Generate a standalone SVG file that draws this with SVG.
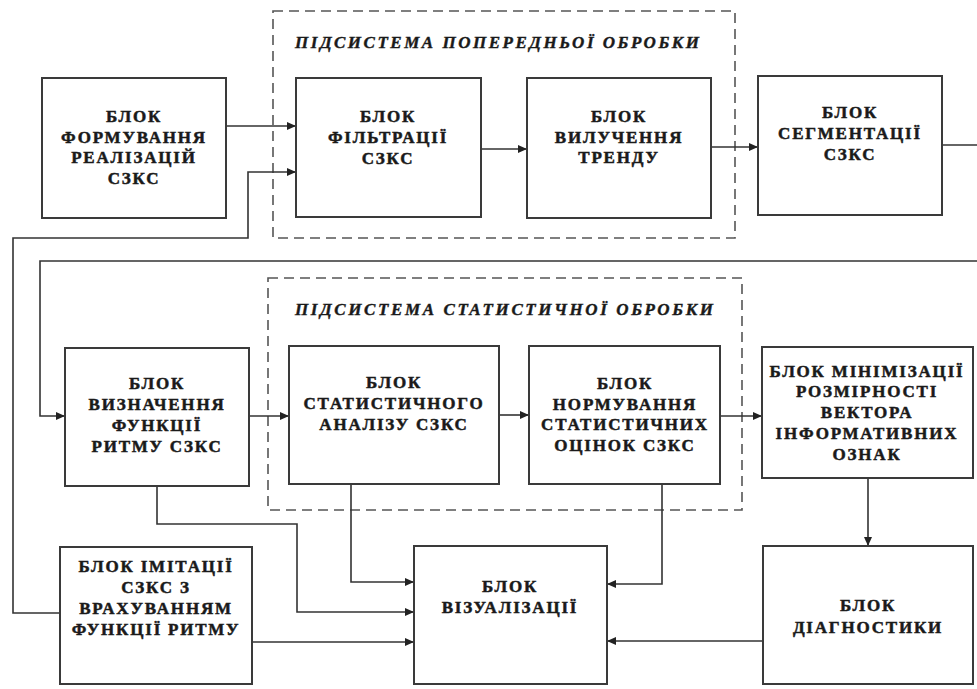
<svg xmlns="http://www.w3.org/2000/svg" width="977" height="689" viewBox="0 0 977 689">
<style>
.box{fill:#fff;stroke:#3a3a3a;stroke-width:2}
.sub{fill:none;stroke:#555;stroke-width:1.6;stroke-dasharray:10 6}
.t{font-family:"Liberation Serif","Times New Roman",serif;font-weight:bold;font-size:17px;fill:#1a1a1a;stroke:#1a1a1a;stroke-width:0.5;text-anchor:middle;letter-spacing:1.8px}
.ti{font-family:"Liberation Serif","Times New Roman",serif;font-weight:bold;font-style:italic;font-size:17px;fill:#1a1a1a;stroke:#1a1a1a;stroke-width:0.4}
.c{fill:none;stroke:#333;stroke-width:1.6}
.a{marker-end:url(#arr)}
</style>
<defs>
<marker id="arr" markerUnits="userSpaceOnUse" markerWidth="9" markerHeight="8" refX="9" refY="4" orient="auto">
<path d="M0,0 L9,4 L0,8 z" fill="#222"/>
</marker>
</defs>
<rect width="977" height="689" fill="#fff"/>
<g id="sub1">
<rect class="sub" x="273" y="11" width="462" height="227"/>
<text class="ti" x="295" y="48" textLength="404" lengthAdjust="spacing">ПІДСИСТЕМА ПОПЕРЕДНЬОЇ ОБРОБКИ</text>
</g>
<g id="sub2">
<rect class="sub" x="268" y="278" width="474" height="232"/>
<text class="ti" x="295" y="315" textLength="418" lengthAdjust="spacing">ПІДСИСТЕМА СТАТИСТИЧНОЇ ОБРОБКИ</text>
</g>
<g id="connectors">
<path class="c a" d="M226,126 H296"/>
<path class="c a" d="M60,613 H13 V238 H248 V172 H296"/>
<path class="c a" d="M481,149 H527"/>
<path class="c a" d="M711,147 H758"/>
<path class="c" d="M942,145 H977"/>
<path class="c a" d="M977,261 H40 V416 H65"/>
<path class="c a" d="M249,416 H289"/>
<path class="c a" d="M499,415 H529"/>
<path class="c a" d="M720,416 H762"/>
<path class="c a" d="M868,478 V546"/>
<path class="c a" d="M157,486 V524 H297 V612 H414"/>
<path class="c a" d="M351,484 V582 H414"/>
<path class="c a" d="M252,642 H414"/>
<path class="c a" d="M662,484 V584 H607"/>
<path class="c a" d="M763,641 H607"/>
</g>
<g id="n-form">
<rect class="box" x="42" y="78" width="184" height="140"/>
<text class="t" x="134" y="122">БЛОК</text>
<text class="t" x="134" y="143">ФОРМУВАННЯ</text>
<text class="t" x="134" y="163">РЕАЛІЗАЦІЙ</text>
<text class="t" x="134" y="184">СЗКС</text>
</g>
<g id="n-filt">
<rect class="box" x="296" y="78" width="185" height="139"/>
<text class="t" x="388" y="122">БЛОК</text>
<text class="t" x="388" y="143">ФІЛЬТРАЦІЇ</text>
<text class="t" x="388" y="164">СЗКС</text>
</g>
<g id="n-trend">
<rect class="box" x="527" y="78" width="184" height="140"/>
<text class="t" x="619" y="122">БЛОК</text>
<text class="t" x="619" y="143">ВИЛУЧЕННЯ</text>
<text class="t" x="619" y="163">ТРЕНДУ</text>
</g>
<g id="n-segm">
<rect class="box" x="758" y="76" width="184" height="139"/>
<text class="t" x="850" y="118">БЛОК</text>
<text class="t" x="850" y="139">СЕГМЕНТАЦІЇ</text>
<text class="t" x="850" y="160">СЗКС</text>
</g>
<g id="n-rhythm">
<rect class="box" x="65" y="348" width="184" height="138"/>
<text class="t" x="157" y="389">БЛОК</text>
<text class="t" x="157" y="410">ВИЗНАЧЕННЯ</text>
<text class="t" x="157" y="431">ФУНКЦІЇ</text>
<text class="t" x="157" y="452">РИТМУ СЗКС</text>
</g>
<g id="n-stat">
<rect class="box" x="289" y="346" width="210" height="138"/>
<text class="t" x="394" y="388">БЛОК</text>
<text class="t" x="394" y="409">СТАТИСТИЧНОГО</text>
<text class="t" x="394" y="430">АНАЛІЗУ СЗКС</text>
</g>
<g id="n-norm">
<rect class="box" x="529" y="346" width="191" height="138"/>
<text class="t" x="625" y="389">БЛОК</text>
<text class="t" x="625" y="410">НОРМУВАННЯ</text>
<text class="t" x="625" y="430">СТАТИСТИЧНИХ</text>
<text class="t" x="625" y="451">ОЦІНОК СЗКС</text>
</g>
<g id="n-min">
<rect class="box" x="762" y="347" width="211" height="131"/>
<text class="t" x="867" y="377">БЛОК МІНІМІЗАЦІЇ</text>
<text class="t" x="867" y="397">РОЗМІРНОСТІ</text>
<text class="t" x="867" y="418">ВЕКТОРА</text>
<text class="t" x="867" y="439">ІНФОРМАТИВНИХ</text>
<text class="t" x="867" y="460">ОЗНАК</text>
</g>
<g id="n-imit">
<rect class="box" x="60" y="547" width="192" height="137"/>
<text class="t" x="156" y="572">БЛОК ІМІТАЦІЇ</text>
<text class="t" x="156" y="593">СЗКС З</text>
<text class="t" x="156" y="614">ВРАХУВАННЯМ</text>
<text class="t" x="156" y="635">ФУНКЦІЇ РИТМУ</text>
</g>
<g id="n-vis">
<rect class="box" x="414" y="546" width="193" height="138"/>
<text class="t" x="510" y="592">БЛОК</text>
<text class="t" x="510" y="613">ВІЗУАЛІЗАЦІЇ</text>
</g>
<g id="n-diag">
<rect class="box" x="763" y="546" width="210" height="138"/>
<text class="t" x="868" y="611">БЛОК</text>
<text class="t" x="868" y="633">ДІАГНОСТИКИ</text>
</g>
</svg>
